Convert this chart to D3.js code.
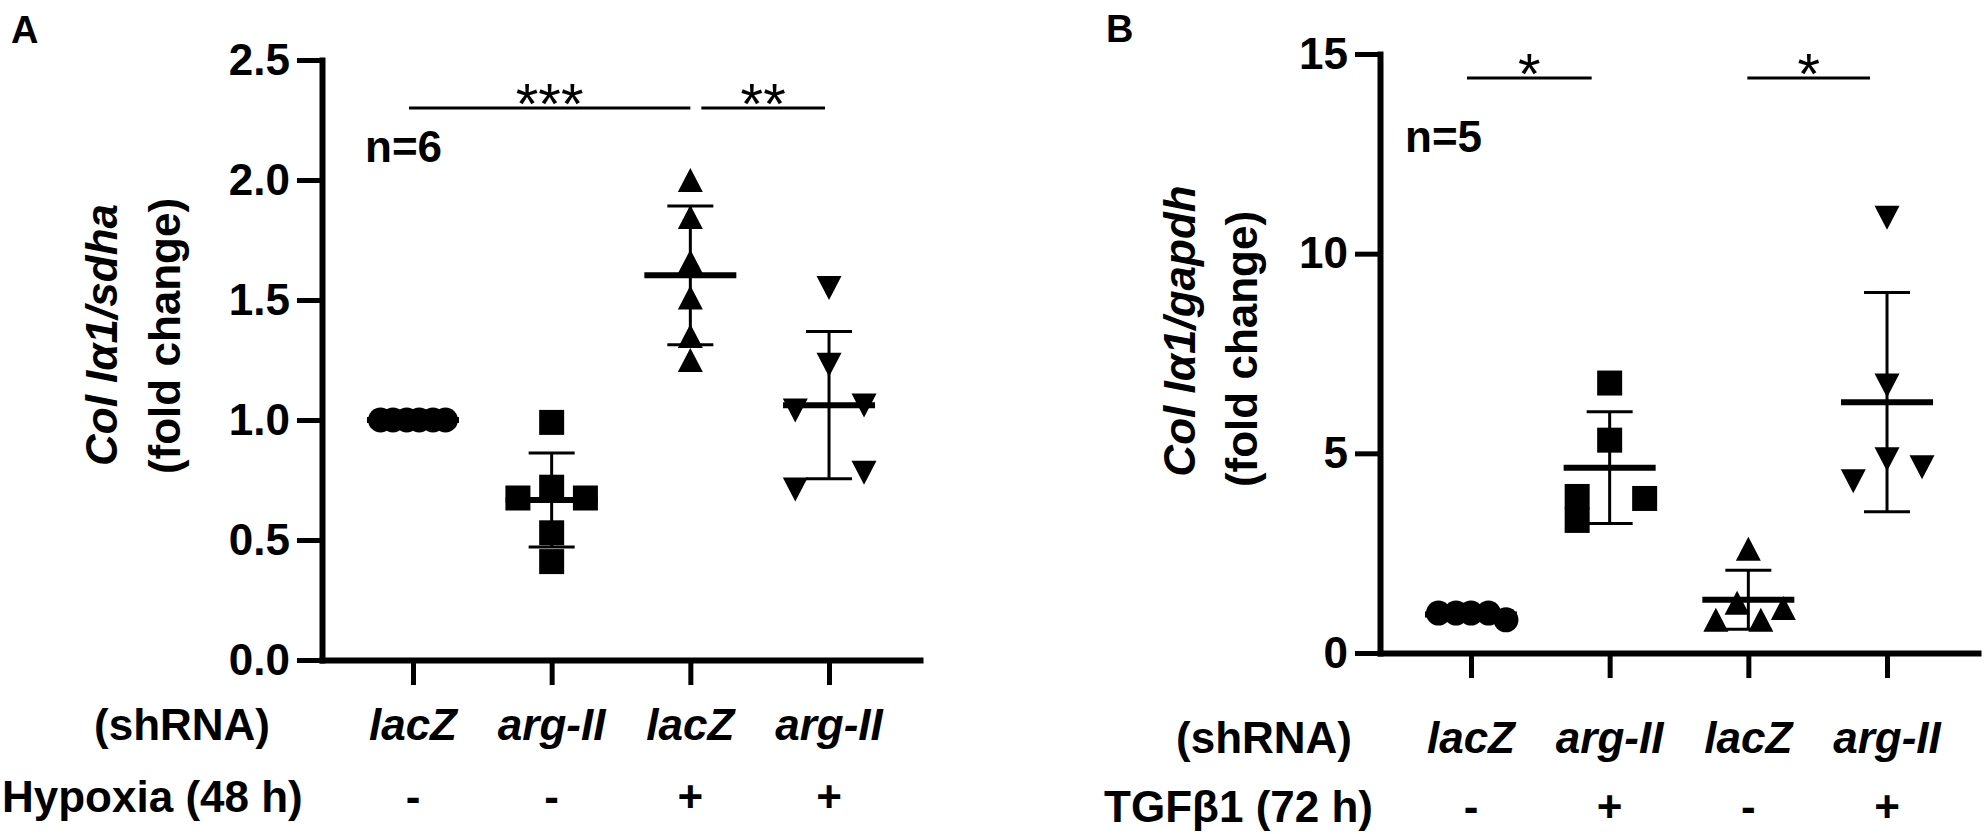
<!DOCTYPE html>
<html>
<head>
<meta charset="utf-8">
<script src="https://cdn.jsdelivr.net/npm/d3@7"></script>
<style>
  body { margin: 0; background: #fff; }
  svg { display: block; }
</style>
</head>
<body>
<div id="chart"></div>
<script>
/* Data: panel A, Col Ia1/sdha, hypoxia 48 h */
const shrnaGroups = ["lacZ", "arg-II", "lacZ", "arg-II"];
const hypoxiaMarks = ["-", "-", "+", "+"];
const tgfMarks = ["-", "+", "-", "+"];

const aLacZ = [1.0, 1.0, 1.0, 1.0, 1.0, 1.0];
const aArgII = [0.99, 0.72, 0.675, 0.675, 0.53, 0.41];
const aLacZHyp = [2.0, 1.846, 1.66, 1.51, 1.35, 1.25];
const aArgIIHyp = [1.55, 1.23, 1.04, 1.06, 0.78, 0.71];

/* scatter column of each point (in marker widths) */
const aLacZCol = [-1.3, -0.8, -0.25, 0.25, 0.8, 1.3];
const aArgIICol = [0, 0, -1.35, 1.35, 0, 0];
const aLacZHypCol = [0, 0, 0, 0, 0, 0];
const aArgIIHypCol = [0, 0, -1.35, 1.4, 1.4, -1.35];

/* Data: panel B, Col Ia1/gapdh, TGFb1 72 h */
const bLacZ = [1.0, 1.0, 1.0, 1.0, 0.83];
const bArgII = [6.76, 5.33, 3.92, 3.87, 3.32];
const bLacZTgf = [2.61, 1.26, 1.13, 0.83, 0.83];
const bArgIITgf = [10.9, 6.7, 4.85, 4.3, 4.65];

const bLacZCol = [-1.3, -0.6, 0, 0.7, 1.4];
const bArgIICol = [0, 0, -1.3, 1.4, -1.3];
const bLacZTgfCol = [0, -0.45, 1.4, -1.3, 0.5];
const bArgIITgfCol = [0, 0, 0, -1.35, 1.4];

const ticksA = [0, 0.5, 1.0, 1.5, 2.0, 2.5];
const ticksB = [0, 5, 10, 15];

const sigA = [
    { from: 0, to: 2, label: "***" },
    { from: 2, to: 3, label: "**" }
];
const sigB = [
    { from: 0, to: 1, label: "*" },
    { from: 2, to: 3, label: "*" }
];

/* Marker shapes (custom symbol types for d3.symbol) */
const triUp = {
    draw(ctx, size) {
        const w = Math.sqrt(size), h = w * 0.96;
        ctx.moveTo(0, -h / 2);
        ctx.lineTo(w / 2, h / 2);
        ctx.lineTo(-w / 2, h / 2);
        ctx.closePath();
    }
};
const triDown = {
    draw(ctx, size) {
        const w = Math.sqrt(size), h = w * 0.96;
        ctx.moveTo(0, h / 2);
        ctx.lineTo(w / 2, -h / 2);
        ctx.lineTo(-w / 2, -h / 2);
        ctx.closePath();
    }
};
const shapes = [
    d3.symbol(d3.symbolCircle, Math.PI * 12.5 * 12.5),
    d3.symbol(d3.symbolSquare, 25 * 25),
    d3.symbol(triUp, 25 * 25),
    d3.symbol(triDown, 25 * 25)
];

const FONT = "'Liberation Sans', Arial, Helvetica, sans-serif";

const svg = d3.select("#chart").append("svg")
    .attr("width", 1987)
    .attr("height", 834)
    .style("font-family", FONT);

function drawPanel(cfg) {
    const g = svg.append("g");

    /* Scales */
    const y = d3.scaleLinear().domain([0, cfg.yMax]).range([cfg.y0, cfg.yTop]);
    const x = d3.scalePoint().domain(d3.range(cfg.groups.length))
        .range([cfg.axisX, cfg.axisEnd]).padding(0.656);
    const jit = d3.scaleLinear().domain([-1, 1]).range([-25, 25]);

    /* Y axis */
    const ya = g.append("g")
        .attr("transform", `translate(${cfg.axisX},0)`)
        .call(d3.axisLeft(y).tickValues(cfg.ticks).tickFormat(cfg.fmt)
            .tickSize(25).tickPadding(7).tickSizeOuter(0));
    ya.attr("font-size", 44).attr("font-family", FONT).attr("font-weight", "bold");
    ya.select(".domain").attr("stroke-width", 6).attr("stroke-linecap", "square");
    ya.selectAll(".tick line").attr("stroke-width", 5);
    ya.selectAll(".tick text").attr("fill", "#000");

    /* X axis */
    const xa = g.append("g")
        .attr("transform", `translate(0,${cfg.y0})`)
        .call(d3.axisBottom(x).tickSize(25).tickFormat("").tickSizeOuter(0));
    xa.select(".domain").attr("stroke-width", 6).attr("stroke-linecap", "square");
    xa.selectAll(".tick line").attr("stroke-width", 5);

    /* Points */
    cfg.groups.forEach((vals, i) => {
        const pts = vals.map((v, k) => ({ v, c: cfg.cols[i][k] }));
        g.selectAll(null)
            .data(pts)
            .join("path")
            .attr("d", shapes[i])
            .attr("transform", d => `translate(${x(i) + jit(d.c)},${y(d.v)})`)
            .attr("fill", "#000");
    });

    /* Mean and SD */
    const stats = cfg.groups.map((vals, i) => ({
        i,
        m: d3.mean(vals),
        sd: d3.deviation(vals)
    }));
    const eb = g.append("g").attr("stroke", "#000");
    eb.selectAll(".whisk").data(stats).join("line")
        .attr("x1", d => x(d.i)).attr("x2", d => x(d.i))
        .attr("y1", d => y(d.m - d.sd)).attr("y2", d => y(d.m + d.sd))
        .attr("stroke-width", 3);
    [1, -1].forEach(s => {
        eb.selectAll(null).data(stats).join("line")
            .attr("x1", d => x(d.i) - 23).attr("x2", d => x(d.i) + 23)
            .attr("y1", d => y(d.m + s * d.sd)).attr("y2", d => y(d.m + s * d.sd))
            .attr("stroke-width", 3);
    });
    eb.selectAll(".mean").data(stats).join("line")
        .attr("x1", d => x(d.i) - 46).attr("x2", d => x(d.i) + 46)
        .attr("y1", d => y(d.m)).attr("y2", d => y(d.m))
        .attr("stroke-width", 6);

    /* Significance bars */
    cfg.sig.forEach((s, k) => {
        const x1 = x(s.from) + cfg.sigTrim[k][0];
        const x2 = x(s.to) + cfg.sigTrim[k][1];
        const yy = y(cfg.sigLevel);
        g.append("line")
            .attr("x1", x1).attr("x2", x2)
            .attr("y1", yy).attr("y2", yy)
            .attr("stroke", "#000").attr("stroke-width", 3);
        g.append("text")
            .attr("x", (x1 + x2) / 2)
            .attr("y", yy + 16)
            .attr("text-anchor", "middle")
            .attr("font-size", 58)
            .text(s.label);
    });

    /* n label */
    g.append("text")
        .attr("x", cfg.nPos[0]).attr("y", cfg.nPos[1])
        .attr("font-size", 44).attr("font-weight", "bold")
        .text(cfg.nText);

    /* Category rows */
    g.selectAll(null).data(shrnaGroups).join("text")
        .attr("x", (d, i) => x(i)).attr("y", cfg.row1)
        .attr("text-anchor", "middle")
        .attr("font-size", 44).attr("font-weight", "bold").attr("font-style", "italic")
        .text(d => d);
    g.selectAll(null).data(cfg.marks).join("text")
        .attr("x", (d, i) => x(i)).attr("y", cfg.row2)
        .attr("text-anchor", "middle")
        .attr("font-size", 44).attr("font-weight", "bold")
        .text(d => d);

    g.append("text")
        .attr("x", cfg.row1Label[0]).attr("y", cfg.row1)
        .attr("text-anchor", cfg.row1Label[1])
        .attr("font-size", 44).attr("font-weight", "bold")
        .text("(shRNA)");
    g.append("text")
        .attr("x", cfg.row2Label[0]).attr("y", cfg.row2)
        .attr("text-anchor", cfg.row2Label[1])
        .attr("font-size", 44).attr("font-weight", "bold")
        .text(cfg.row2Text);

    /* Y title, two lines */
    const t1 = g.append("text")
        .attr("transform", `translate(${cfg.title1[0]},${cfg.title1[1]}) rotate(-90)`)
        .attr("text-anchor", "middle")
        .attr("font-size", 44).attr("font-weight", "bold").attr("font-style", "italic");
    t1.text(cfg.yTitle);
    g.append("text")
        .attr("transform", `translate(${cfg.title2[0]},${cfg.title2[1]}) rotate(-90)`)
        .attr("text-anchor", "middle")
        .attr("font-size", 44).attr("font-weight", "bold")
        .text("(fold change)");

    /* Panel letter */
    g.append("text")
        .attr("x", cfg.letterPos[0]).attr("y", cfg.letterPos[1])
        .attr("font-size", 38).attr("font-weight", "bold")
        .text(cfg.letter);
}

drawPanel({
    letter: "A", letterPos: [11, 43],
    groups: [aLacZ, aArgII, aLacZHyp, aArgIIHyp],
    cols: [aLacZCol, aArgIICol, aLacZHypCol, aArgIIHypCol],
    yMax: 2.5, y0: 660, yTop: 60, axisX: 322, axisEnd: 920,
    ticks: ticksA, fmt: d3.format(".1f"),
    sig: sigA, sigLevel: 2.3, sigTrim: [[-4, 0], [11, -4]],
    nText: "n=6", nPos: [365, 162],
    marks: hypoxiaMarks, row1: 740, row2: 812,
    row1Label: [270, "end"], row2Label: [2, "start"], row2Text: "Hypoxia (48 h)",
    yTitle: "Col Iα1/sdha", title1: [117, 335], title2: [180, 336]
});

drawPanel({
    letter: "B", letterPos: [1106, 42],
    groups: [bLacZ, bArgII, bLacZTgf, bArgIITgf],
    cols: [bLacZCol, bArgIICol, bLacZTgfCol, bArgIITgfCol],
    yMax: 15, y0: 653, yTop: 54, axisX: 1380, axisEnd: 1978,
    ticks: ticksB, fmt: d3.format("d"),
    sig: sigB, sigLevel: 14.4, sigTrim: [[-4, -18], [-1, -17]],
    nText: "n=5", nPos: [1405, 152],
    marks: tgfMarks, row1: 753, row2: 822,
    row1Label: [1352, "end"], row2Label: [1373, "end"], row2Text: "TGFβ1 (72 h)",
    yTitle: "Col Iα1/gapdh", title1: [1195, 331], title2: [1257, 349]
});
</script>
</body>
</html>
